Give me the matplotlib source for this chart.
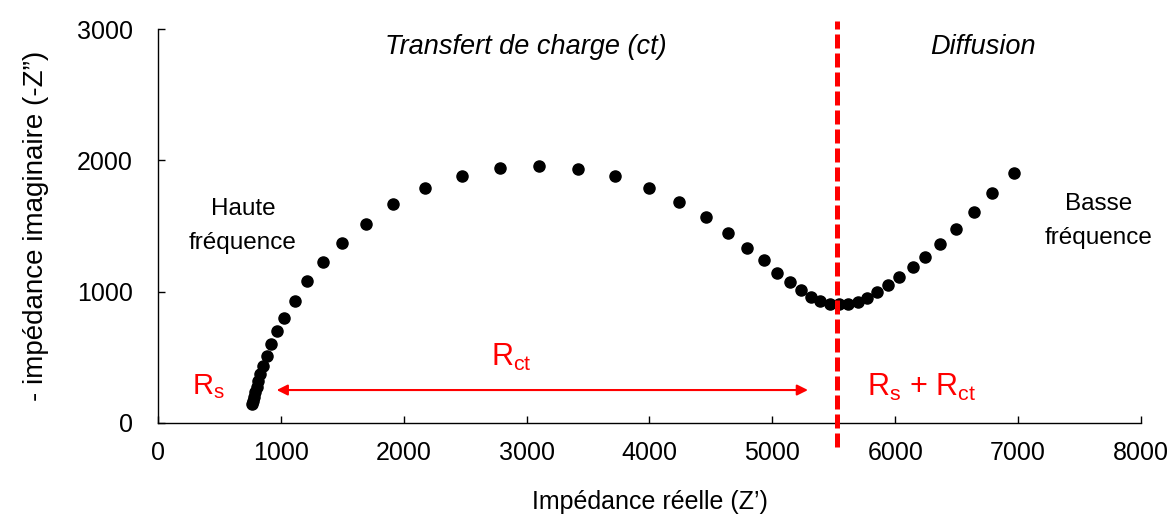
import matplotlib
matplotlib.use("Agg")
import matplotlib.pyplot as plt

plt.rcParams['font.family'] = ['Liberation Sans', 'DejaVu Sans']

# Data
z_real = [769, 777, 785, 793, 802, 814, 828, 852, 887, 922, 968, 1028, 1115, 1210,
          1339, 1497, 1690, 1915, 2175, 2471, 2783, 3100, 3418, 3721, 3993, 4240,
          4457, 4636, 4790, 4929, 5037, 5140, 5231, 5315, 5391, 5468, 5540, 5616,
          5694, 5772, 5853, 5938, 6030, 6141, 6244, 6366, 6496, 6640, 6791, 6966]
z_imag = [143, 165, 196, 234, 272, 318, 369, 435, 509, 598, 697, 801, 930, 1078,
          1222, 1370, 1515, 1664, 1788, 1884, 1945, 1960, 1935, 1879, 1790, 1685,
          1566, 1449, 1335, 1243, 1144, 1071, 1012, 962, 930, 907, 903, 907,
          923, 953, 999, 1050, 1111, 1190, 1266, 1365, 1477, 1604, 1750, 1904]

divider_x = 5530
divider_span = [-185, 3060]
arrow_start = 966
arrow_end = 5290
arrow_y = 249

x_ticks = [0, 1000, 2000, 3000, 4000, 5000, 6000, 7000, 8000]
y_ticks = [0, 1000, 2000, 3000]

fig = plt.figure(figsize=(11.72, 5.21), dpi=100)
ax = fig.add_axes([0.1348, 0.1887, 0.8387, 0.7551])

ax.plot(z_real, z_imag, 'o', color='black', markersize=8, clip_on=False, zorder=3)

ax.plot([divider_x, divider_x], divider_span, color='#ff0000', lw=3.6,
        linestyle=(0, (2.8, 1.0)), clip_on=False, zorder=4)

ax.annotate('', xy=(arrow_start, arrow_y), xytext=(arrow_end, arrow_y),
            arrowprops=dict(arrowstyle='<|-|>', color='#ff0000', lw=1.5,
                            mutation_scale=16, shrinkA=0, shrinkB=0))

red = '#ff0000'
ax.text(407, 272, r'R$_\mathregular{s}$', color=red, fontsize=21, ha='center', va='center')
ax.text(2873, 501, r'R$_\mathregular{ct}$', color=red, fontsize=22, ha='center', va='center')
ax.text(6217, 272, r'R$_\mathregular{s}$ + R$_\mathregular{ct}$', color=red, fontsize=22,
        ha='center', va='center')

ax.text(2995, 2865, 'Transfert de charge (ct)', style='italic', fontsize=19.5,
        ha='center', va='center')
ax.text(6713, 2865, 'Diffusion', style='italic', fontsize=19.5, ha='center', va='center')
ax.text(692, 1500, 'Haute\nfréquence', fontsize=17.5, ha='center', va='center',
        linespacing=1.68)
ax.text(7657, 1540, 'Basse\nfréquence', fontsize=17.5, ha='center', va='center',
        linespacing=1.68)

ax.set_xlim(0, 8000)
ax.set_ylim(0, 3000)
ax.set_xticks(x_ticks)
ax.set_yticks(y_ticks)
ax.set_xticklabels([str(t) for t in x_ticks])
ax.set_yticklabels([str(t) for t in y_ticks])

ax.spines['top'].set_visible(False)
ax.spines['right'].set_visible(False)
for s in ['left', 'bottom']:
    ax.spines[s].set_linewidth(1.0)
    ax.spines[s].set_color('black')

ax.tick_params(axis='x', direction='in', length=5, width=1, labelsize=18, pad=13)
ax.tick_params(axis='y', direction='in', length=5, width=1, labelsize=18, pad=18)

ax.set_xlabel('Impédance réelle (Z’)', fontsize=18, labelpad=18)
ax.set_ylabel('- impédance imaginaire (-Z”)', fontsize=20, labelpad=20)

fig.savefig('out.png', dpi=100)
